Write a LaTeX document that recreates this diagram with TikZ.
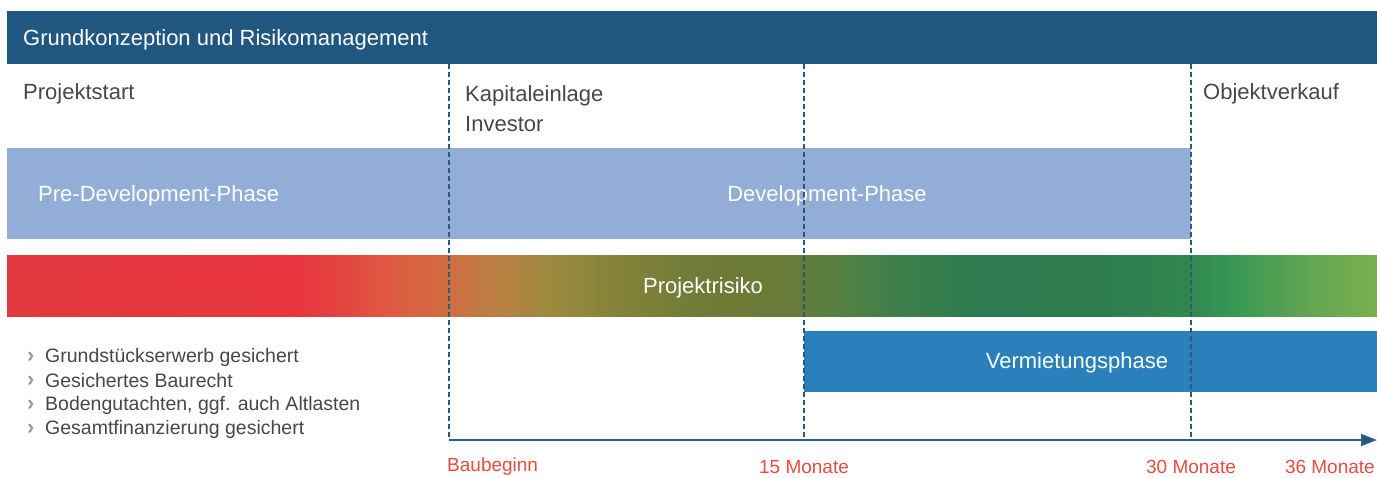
\documentclass[tikz,border=0pt]{standalone}
\usepackage{fontspec}
\setmainfont{Liberation Sans}
\usetikzlibrary{arrows.meta}
\definecolor{hdrblue}{HTML}{1F5780}
\definecolor{txtgray}{HTML}{474747}
\definecolor{lightblue}{HTML}{92AED6}
\definecolor{rentblue}{HTML}{2980BA}
\definecolor{dashblue}{HTML}{2B5A80}
\definecolor{axisblue}{HTML}{2E5F87}
\definecolor{lblred}{HTML}{E84B3F}
\definecolor{chevgray}{HTML}{9A9A9A}
\definecolor{rA}{HTML}{E2383F}
\definecolor{rB}{HTML}{E8343F}
\definecolor{rC}{HTML}{E5403F}
\definecolor{rD}{HTML}{DE5A42}
\definecolor{rE}{HTML}{CF6E40}
\definecolor{rF}{HTML}{BC7E42}
\definecolor{rG}{HTML}{9B8A3E}
\definecolor{rH}{HTML}{84833A}
\definecolor{rI}{HTML}{6F7C37}
\definecolor{rJ}{HTML}{6B7A37}
\definecolor{rK}{HTML}{558042}
\definecolor{rL}{HTML}{3C7E4A}
\definecolor{rM}{HTML}{2E7C4F}
\definecolor{rN}{HTML}{2F7C4F}
\definecolor{rO}{HTML}{31874F}
\definecolor{rP}{HTML}{369853}
\definecolor{rQ}{HTML}{5EA352}
\definecolor{rR}{HTML}{7BB04F}
% bp = 25 + 50*(x-7)/1370
\pgfdeclarehorizontalshading{risk}{100bp}{%
color(0bp)=(rA); color(25bp)=(rA);
color(35.33bp)=(rB);
color(36.79bp)=(rC);
color(39.02bp)=(rD);
color(41.13bp)=(rE);
color(42.74bp)=(rF);
color(44.96bp)=(rG);
color(47.23bp)=(rH);
color(50.18bp)=(rI);
color(53.18bp)=(rJ);
color(55.40bp)=(rK);
color(57.63bp)=(rL);
color(60.15bp)=(rM);
color(64.89bp)=(rN);
color(68.18bp)=(rO);
color(69.64bp)=(rP);
color(72.19bp)=(rQ);
color(75bp)=(rR); color(100bp)=(rR)}
\tikzset{
  bigtxt/.style={inner sep=0pt, font=\fontsize{22}{30}\selectfont},
  whitetxt/.style={bigtxt, text=white},
  graytxt/.style={bigtxt, text=txtgray},
  bullettxt/.style={inner sep=0pt, anchor=west, text=txtgray, font=\fontsize{19.5}{24}\selectfont},
  chevron/.style={inner sep=0pt, anchor=west, text=chevgray, font=\bfseries\fontsize{22}{24}\selectfont},
  monthlbl/.style={inner sep=0pt, text=lblred, font=\fontsize{19}{22}\selectfont},
  milestone/.style={dashblue, line width=1.3pt, dash pattern=on 5pt off 3pt},
  axisline/.style={axisblue, line width=2pt, -{Triangle[length=16pt,width=12pt,fill=hdrblue]}}
}
\begin{document}
\begin{tikzpicture}[x=1pt,y=-1pt]
\useasboundingbox (0,0) rectangle (1377,477);
% header
\fill[hdrblue] (7,11) rectangle (1377,64);
\node[whitetxt, anchor=west] (hdr) at (23,40) {Grundkonzeption und Risikomanagement};
% milestone texts
\node[graytxt, anchor=west] (start) at (23,94) {Projektstart};
\node[graytxt, anchor=north west, align=left] (kap) at (465,85) {Kapitaleinlage\\Investor};
\node[graytxt, anchor=west] (verk) at (1203,94) {Objektverkauf};
% phases
\fill[lightblue] (7,148) rectangle (1191,239);
\node[whitetxt, anchor=west] (pre) at (38,196) {Pre-Development-Phase};
\node[whitetxt] (dev) at (827,196) {Development-Phase};
\shade[shading=risk] (7,255) rectangle (1377,316);
\node[whitetxt] (risk) at (703,288) {Projektrisiko};
\fill[rentblue] (804,331) rectangle (1377,392);
\node[whitetxt] (rent) at (1077,363) {Vermietungsphase};
% bullets
\foreach \i/\t in {0/{Grundstückserwerb gesichert},1/{Gesichertes Baurecht},2/{Bodengutachten, ggf. auch Altlasten},3/{Gesamtfinanzierung gesichert}}{
  \node[chevron] (chev\i) at (27,357+24*\i) {›};
  \node[bullettxt] (item\i) at (45,357+24*\i) {\t};
}
% axis and milestones
\coordinate (m0top) at (449,64);
\coordinate (m1top) at (804,64);
\coordinate (m2top) at (1191,64);
\coordinate (m0) at (449,440);
\coordinate (m1) at (804,440);
\coordinate (m2) at (1191,440);
\coordinate (axend) at (1377,440);
\draw[milestone] (m0top) -- (m0);
\draw[milestone] (m1top) -- (m1);
\draw[milestone] (m2top) -- (m2);
\draw[axisline] (m0) -- (axend);
\node[monthlbl, anchor=west] (l0) at (447,467) {Baubeginn};
\node[monthlbl] (l1) at (804,467) {15 Monate};
\node[monthlbl] (l2) at (1191,467) {30 Monate};
\node[monthlbl, anchor=east] (l3) at (1375,467) {36 Monate};
\end{tikzpicture}
\end{document}
